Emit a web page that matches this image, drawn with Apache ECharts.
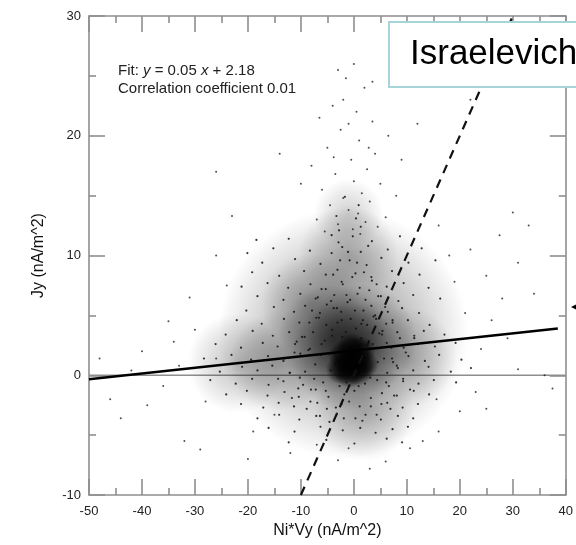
<!DOCTYPE html>
<html>
<head>
<meta charset="utf-8">
<title>Jy vs Ni*Vy</title>
<script src="https://cdn.jsdelivr.net/npm/echarts@6/dist/echarts.min.js"></script>
<style>
    html, body { margin: 0; padding: 0; background: #fff; }
    #chartDiv { width: 576px; height: 545px; }
</style>
</head>
<body>
<div id="chartDiv"></div>
<script>
// axis ranges (nA/m^2)
var xRange = [-50, 40];
var yRange = [-10, 30];

// reference lines
var zeroLine = [[-50, 0], [40, 0]];
var fitLine = [[-50, -0.33], [38.5, 3.9]];      // y = 0.05 x + 2.18
var identityLine = [[-10, -10], [30, 30]];      // dashed y = x

// density of the cloud (centres of the dark zones)
var hazeWide = [[-2, 3.5]];
var hazeBand = [[-14, 1.2], [-22, 1], [10, 1.5], [-1, 10], [2, -3], [-8, 6]];
var hazePlume = [[-1, 13.5]];
var hazeMid = [[-1.5, 1.6], [-4, 3], [1.5, 3]];
var corePts = [[-1, 1], [0.3, 1.3], [-0.8, 0.2], [0.8, 0.4], [-2, 1.6], [1.2, 2], [-2.5, 0.5], [-0.5, 2.3], [1.8, 0.9]];

// individual dots near the centre
var innerSpecks = [
    [-9.2,0.3],[-8.6,2.1],[-8.1,-1.2],[-7.7,3.6],[-7.3,0.9],[-6.9,-2.3],[-6.6,4.8],[-6.2,1.7],[-5.8,-0.6],[-5.5,2.9],
    [-5.1,5.9],[-4.8,-1.8],[-4.4,0.4],[-4.1,3.3],[-3.7,6.7],[-3.4,-2.7],[-3.1,4.4],[-2.7,-0.9],[-2.4,5.3],[-2.1,7.6],
    [-1.8,-1.6],[-1.5,3.6],[-1.2,6.1],[-0.9,-2.2],[-0.6,4.7],[-0.3,8.2],[0.1,-1.3],[0.4,3.9],[0.7,6.8],[1.1,-2.6],
    [1.4,3.1],[1.8,5.4],[2.1,-0.7],[2.5,4.2],[2.9,7.1],[3.2,-1.9],[3.6,2.6],[4.0,5.0],[4.4,-0.4],[4.8,3.5],
    [5.2,-2.4],[5.7,1.4],[6.1,4.3],[6.6,-0.9],[7.1,2.3],[7.6,-1.7],[8.1,0.8],[-9.8,3.2],[-8.9,-2.8],[-7.9,5.4],
    [-6.4,-3.4],[-5.3,7.2],[-3.9,8.4],[-2.6,9.6],[-1.1,10.3],[0.6,9.4],[1.9,8.6],[3.4,7.9],[4.6,6.6],[5.9,5.7],
    [7.3,4.6],[8.7,3.1],[9.3,-0.5],[-10.5,-1.1],[-11.2,1.9],[-12.1,0.2],[-6.8,6.5],[-4.6,-3.9],[-1.9,-3.6],[1.6,-3.8],
    [4.3,-3.3],[6.9,-2.8],[-0.2,11.6],[-2.9,11.1],[1.3,12.4],[-4.2,10.2],[2.7,10.8],[-3.3,13.3],[0.9,14.2],[-1.7,14.9],
    [-8.4,4.4],[-7.5,-0.3],[-6.1,2.6],[-5.3,-1.3],[-4.7,1.8],[-3.8,5.6],[-3.2,0.9],[-2.2,3.2],[-1.4,-0.6],[-0.7,6.3],
    [0.2,2.9],[0.9,-0.9],[1.7,4.6],[2.4,1.7],[3.1,-0.2],[3.7,4.9],[4.5,1.1],[5.4,3.7],[6.3,0.2],[7.4,1.1],
    [-9.6,-0.8],[-10.8,2.8],[-11.7,-1.9],[-13.2,1.4],[-14.3,-0.3],[9.8,1.9],[10.6,-1.2],[11.4,3.1],[-2.8,12.1],[0.4,13.1]
];

// dots in the middle zone of the cloud
var midSpecks = [
    [-12.3,11.4],[-4.2,11.7],[3.4,11.2],[8.7,11.6],[-18.4,11.3],
    [-15.2,10.6],[-8.3,10.4],[-2.2,10.7],[1.3,10.3],[6.4,10.5],[12.8,10.6],[-20.1,10.2],
    [-17.3,9.4],[-11.1,9.7],[-6.3,9.3],[-0.8,9.6],[2.4,9.2],[5.2,9.8],[10.3,9.4],[15.4,9.6],
    [-19.2,8.6],[-14.1,8.3],[-9.4,8.7],[-5.3,8.4],[-3.1,8.8],[0.3,8.5],[3.3,8.2],[7.2,8.7],[12.4,8.4],
    [-21.2,7.4],[-16.3,7.7],[-12.4,7.3],[-8.2,7.6],[-6.1,7.2],[-2.3,7.8],[1.1,7.3],[4.3,7.6],[6.2,7.4],[9.4,7.7],[14.1,7.3],
    [-18.2,6.6],[-13.3,6.3],[-10.1,6.8],[-7.2,6.4],[-4.3,6.2],[-1.4,6.7],[2.2,6.3],[5.1,6.6],[8.4,6.2],[11.2,6.7],[16.3,6.4],
    [-20.3,5.4],[-15.1,5.7],[-11.3,5.3],[-9.2,5.8],[-6.4,5.2],[-3.2,5.6],[0.2,5.4],[3.3,5.8],[6.4,5.3],[9.1,5.6],[12.3,5.2],
    [-22.1,4.6],[-17.4,4.3],[-13.2,4.7],[-10.3,4.4],[-7.1,4.8],[-5.2,4.2],[-2.3,4.6],[1.4,4.3],[4.2,4.7],[7.3,4.4],[10.2,4.6],[14.3,4.2],
    [-24.2,3.4],[-19.1,3.7],[-15.3,3.3],[-12.2,3.6],[-9.3,3.2],[-4.1,3.8],[5.3,3.4],[8.2,3.6],[11.4,3.3],[13.2,3.7],[17.1,3.4],
    [-26.1,2.6],[-21.3,2.3],[-17.2,2.7],[-14.4,2.4],[-11.1,2.6],[-8.3,2.2],[6.2,2.7],[9.4,2.3],[12.1,2.6],[15.3,2.4],[19.2,2.7],
    [-28.3,1.4],[-23.1,1.7],[-19.4,1.3],[-16.2,1.6],[-13.3,1.2],[-10.1,1.8],[7.2,1.4],[10.3,1.6],[13.4,1.2],[16.1,1.7],[20.3,1.3],
    [-30.2,0.6],[-25.3,0.3],[-21.1,0.7],[-18.2,0.4],[-15.4,0.8],[-12.1,0.2],[8.3,0.6],[11.2,0.4],[14.1,0.7],[18.3,0.3],[22.1,0.6],
    [-27.1,-0.4],[-22.3,-0.7],[-19.2,-0.3],[-16.1,-0.8],[-13.3,-0.5],[-10.2,-0.2],[6.1,-0.6],[9.3,-0.3],[12.2,-0.7],[15.1,-0.4],[19.3,-0.6],
    [-24.1,-1.6],[-20.2,-1.3],[-16.3,-1.7],[-13.1,-1.4],[-10.4,-1.8],[-7.2,-1.2],[5.3,-1.5],[8.1,-1.7],[11.3,-1.3],[14.2,-1.6],
    [-21.3,-2.4],[-17.1,-2.7],[-14.2,-2.3],[-11.3,-2.6],[-8.2,-2.2],[-5.1,-2.8],[-2.3,-2.4],[3.2,-2.6],[6.3,-2.3],[9.2,-2.7],[12.1,-2.4],
    [-18.2,-3.6],[-14.1,-3.3],[-10.3,-3.7],[-7.1,-3.4],[-3.2,-3.2],[0.3,-3.6],[2.2,-3.3],[5.1,-3.7],[8.3,-3.4],[11.2,-3.6],
    [-16.1,-4.4],[-11.2,-4.7],[-6.3,-4.3],[-2.1,-4.6],[1.2,-4.4],[4.1,-4.8],[7.3,-4.5],[10.2,-4.3],
    [-12.3,-5.6],[-5.2,-5.4],[0.1,-5.7],[6.2,-5.3],[9.1,-5.6]
];

// sparse dots: upward plume, right tail, left tail, bottom
var outlierPts = [
    [-3,25.5],[-1.5,24.8],[2,24],[-4,22.5],[0.5,22],[3.5,21.2],[-2.5,20.5],[1,19.6],[-5,19],[4,18.5],
    [-0.5,18],[2.5,17.2],[-3.5,16.8],[0,16.2],[5,16],[-6,15.5],[1.5,15.2],[-2,14.8],[3,14.5],[-4.5,14.2],
    [-1,13.8],[0.8,13.5],[6,13.2],[-7,13],[2.2,12.8],[-3,12.6],[4.5,12.4],[-0.2,12.2],[-5.5,12],[1.2,11.8],
    [3.5,24.5],[-2,23],[6.5,20],[-8,17.5],[8,15],[-1,21],[2.8,19],[-6.5,21.5],[0,26],[-3.8,18.2],
    [12,21],[-26,17],[22,23],[-14,18.5],[-10,16],[9,18],
    [30,13.6],[33,12.5],[27.5,11.7],[31,9.4],[28,6.4],[25,8.3],[22,10.5],[19,7.8],[24,2.2],[31,0.5],
    [36,0],[37.5,-1.1],[15.6,-2],[26,4.6],[29,3.1],[21,5.2],[34,6.8],[23,-1.4],[18,10],[16,12.5],[20,-3],
    [-48,1.4],[-46,-2],[-39,-2.5],[-33,0.8],[-40,2],[-32,-5.5],[-26,1.4],[-23,13.3],[-26,10],[-34,2.8],
    [-44,-3.6],[-36,-0.9],[-42,0.4],[-30,3.8],[-28,-2.2],[-31,6.5],[-24,7.5],[-35,4.5],
    [-19,-4.7],[-15,-3.3],[6,-7.2],[10.6,-6.1],[16,-4.7],[3,-7.8],[-7,-5.8],[-1,-6.1],[25,-2.8],[-12,-6.5],
    [-20,-7],[13,-5.5],[-3,-7.1],[-29,-6.2]
];

var axisGray = '#8e8e8e';
var fontFam = '"Liberation Sans", Arial, Helvetica, sans-serif';

function haze(alpha) {
    return new echarts.graphic.RadialGradient(0.5, 0.5, 0.5, [
        { offset: 0, color: 'rgba(0,0,0,' + alpha + ')' },
        { offset: 0.55, color: 'rgba(0,0,0,' + (alpha * 0.5) + ')' },
        { offset: 1, color: 'rgba(0,0,0,0)' }
    ]);
}

function makeAxis(pos, range, showLabel, name, nameGap) {
    var ax = {
        type: 'value',
        position: pos,
        min: range[0],
        max: range[1],
        interval: 10,
        splitLine: { show: false },
        axisLine: { show: true, onZero: false, lineStyle: { color: axisGray, width: 1.6 } },
        axisTick: { show: true, inside: true, length: 16, lineStyle: { color: axisGray, width: 1.6 } },
        minorTick: { show: true, splitNumber: 2, length: 7, lineStyle: { color: axisGray, width: 1.6 } },
        axisLabel: {
            show: showLabel,
            color: '#222',
            fontSize: 13,
            fontFamily: fontFam,
            margin: (pos === 'bottom') ? 10 : 8
        }
    };
    if (name) {
        ax.name = name;
        ax.nameLocation = 'middle';
        ax.nameGap = nameGap;
        ax.nameTextStyle = { color: '#111', fontSize: 16, fontFamily: fontFam };
    }
    return ax;
}

var myChart = echarts.init(document.getElementById('chartDiv'));

var option = {
    animation: false,
    backgroundColor: '#fff',
    grid: { left: 89, right: 7, top: 16, bottom: 50, containLabel: false },
    xAxis: [
        makeAxis('bottom', xRange, true, 'Ni*Vy (nA/m^2)', 28),
        makeAxis('top', xRange, false)
    ],
    yAxis: [
        makeAxis('left', yRange, true, 'Jy (nA/m^2)', 42),
        makeAxis('right', yRange, false)
    ],
    series: [
        {
            type: 'line', data: zeroLine, symbol: 'none', silent: true, z: 1,
            lineStyle: { color: axisGray, width: 1.5 }
        },
        {
            type: 'scatter', data: hazeWide, symbolSize: 250, silent: true, z: 2,
            itemStyle: { color: haze(0.55) }
        },
        {
            type: 'scatter', data: hazeBand, symbolSize: 100, silent: true, z: 2,
            itemStyle: { color: haze(0.3) }
        },
        {
            type: 'scatter', data: hazePlume, symbolSize: 70, silent: true, z: 2,
            itemStyle: { color: haze(0.22) }
        },
        {
            type: 'scatter', data: hazeMid, symbolSize: 110, silent: true, z: 2,
            itemStyle: { color: haze(0.55) }
        },
        {
            type: 'scatter', data: corePts, symbolSize: 30, silent: true, z: 3,
            itemStyle: { color: new echarts.graphic.RadialGradient(0.5, 0.5, 0.5, [
                { offset: 0, color: 'rgba(0,0,0,1)' },
                { offset: 0.5, color: 'rgba(0,0,0,0.8)' },
                { offset: 1, color: 'rgba(0,0,0,0)' }
            ]) }
        },
        {
            type: 'scatter', data: innerSpecks.concat(midSpecks), symbolSize: 2.2, silent: true, z: 3,
            itemStyle: { color: '#111', opacity: 0.85 }
        },
        {
            type: 'scatter', data: outlierPts, symbolSize: 2, silent: true, z: 3,
            itemStyle: { color: '#222', opacity: 0.8 }
        },
        {
            type: 'line', data: fitLine, symbol: 'none', silent: true, z: 5,
            lineStyle: { color: '#000', width: 2.6 }
        },
        {
            type: 'line', data: identityLine, symbol: 'none', silent: true, z: 5,
            lineStyle: { color: '#111', width: 2.2, type: [9, 7] }
        }
    ],
    graphic: [
        {
            type: 'text', left: 118, top: 63, z: 10,
            style: {
                text: '{n|Fit: }{i|y}{n| = 0.05 }{i|x}{n| + 2.18}\n{n|Correlation coefficient 0.01}',
                rich: {
                    n: { fontSize: 15, fontFamily: fontFam, fill: '#222', lineHeight: 18 },
                    i: { fontSize: 15, fontFamily: fontFam, fontStyle: 'italic', fill: '#222', lineHeight: 18 }
                }
            }
        },
        {
            type: 'rect', z: 20,
            shape: { x: 389, y: 22, width: 200, height: 65 },
            style: { fill: '#fff', stroke: '#a6d4d9', lineWidth: 2 }
        },
        {
            type: 'text', z: 21, x: 410, y: 54,
            style: {
                text: 'Israelevich', fontSize: 35, fontFamily: fontFam,
                fill: '#000', verticalAlign: 'middle'
            }
        },
        {
            type: 'polygon', z: 21,
            shape: { points: [[571, 307], [578, 303.5], [578, 310.5]] },
            style: { fill: '#000' }
        }
    ]
};

myChart.setOption(option);
</script>
</body>
</html>
